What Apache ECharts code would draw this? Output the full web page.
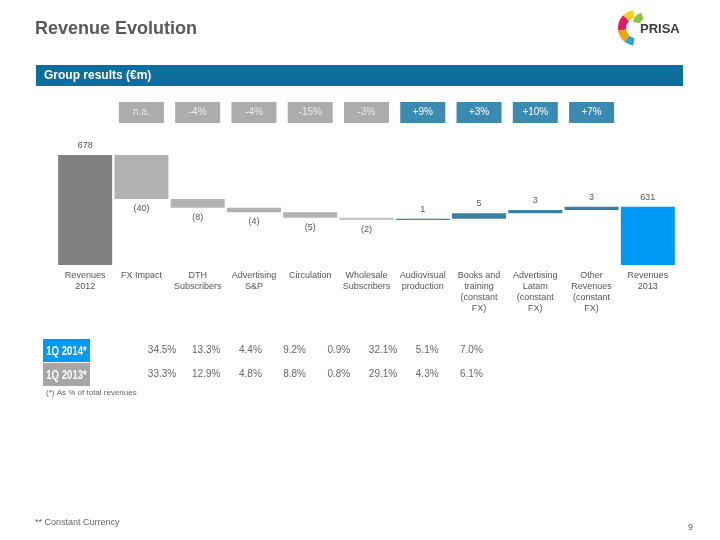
<!DOCTYPE html>
<html><head><meta charset="utf-8">
<script src="https://cdn.jsdelivr.net/npm/echarts@6/dist/echarts.min.js"></script>
<style>html,body{margin:0;padding:0;background:#fff}#c{width:720px;height:540px}</style>
</head><body><div id="c"></div>
<script>
const categories = ['Revenues\n2012','FX Impact','DTH\nSubscribers','Advertising\nS&P','Circulation','Wholesale\nSubscribers','Audiovisual\nproduction','Books and\ntraining\n(constant\nFX)','Advertising\nLatam\n(constant\nFX)','Other\nRevenues\n(constant\nFX)','Revenues\n2013'];
const values = [678, -40, -8, -4, -5, -2, 1, 5, 3, 3, 631];
const isTotal = [true,false,false,false,false,false,false,false,false,false,true];
const changeLabels = ['', 'n.a.', '-4%', '-4%', '-15%', '-3%', '+9%', '+3%', '+10%', '+7%', ''];
const row2014 = ['34.5%','13.3%','4.4%','9.2%','0.9%','32.1%','5.1%','7.0%'];
const row2013 = ['33.3%','12.9%','4.8%','8.8%','0.8%','29.1%','4.3%','6.1%'];
const rowNames = ['1Q 2014*','1Q 2013*'];

const FONT = '"Liberation Sans", Arial, sans-serif';
const base = [], bar = [];
let cum = 0;
values.forEach((v,i)=>{
  let color;
  if (isTotal[i]) { base.push(0); cum = v; color = i===0 ? '#808080' : '#0099f5'; bar.push({value:v, itemStyle:{color}}); }
  else if (v < 0) { base.push(cum + v); cum += v; bar.push({value:-v, itemStyle:{color: i===5 ? '#c4c4c4' : '#b2b2b2'}, label:{position:'bottom'}}); }
  else { base.push(cum); cum += v; bar.push({value:v, itemStyle:{color:'#3a80a3'}}); }
});

const chart = echarts.init(document.getElementById('c'));
const graphics = [
  {type:'text', left:35, top:20, style:{text:'Revenue Evolution', font:'bold 18px '+FONT, fill:'#595959'}},
  {type:'rect', shape:{x:36,y:65,width:647,height:21}, style:{fill:'#0d6e9d'}},
  {type:'text', left:44, top:70, style:{text:'Group results (€m)', font:'bold 12px '+FONT, fill:'#fff'}},
  // logo
  {type:'sector', shape:{cx:636,cy:28,r:18,r0:10,startAngle:Math.PI*0.95,endAngle:Math.PI*1.25}, style:{fill:'#e8175d'}},
  {type:'sector', shape:{cx:636,cy:28,r:18,r0:10,startAngle:Math.PI*0.72,endAngle:Math.PI*0.95}, style:{fill:'#f5a300'}},
  {type:'sector', shape:{cx:636,cy:28,r:18,r0:10,startAngle:Math.PI*0.55,endAngle:Math.PI*0.72}, style:{fill:'#2aa6df'}},
  {type:'sector', shape:{cx:636,cy:28,r:18,r0:10,startAngle:Math.PI*1.25,endAngle:Math.PI*1.45}, style:{fill:'#f7d117'}},
  {type:'sector', shape:{cx:645,cy:24,r:12,r0:5,startAngle:Math.PI*1.05,endAngle:Math.PI*1.4}, style:{fill:'#8cc63f'}},
  {type:'text', left:640, top:23, style:{text:'PRISA', font:'bold 13px '+FONT, fill:'#3c3c3c'}},
  {type:'text', left:46, top:389, style:{text:'(*) As % of total revenues', font:'8px '+FONT, fill:'#666'}},
  {type:'text', left:35, top:518, style:{text:'** Constant Currency', font:'9px '+FONT, fill:'#666'}},
  {type:'text', left:688, top:523, style:{text:'9', font:'9px '+FONT, fill:'#666'}}
];
const rowY = [339, 363];
const rowColors = ['#0099f5','#a6a6a6'];
[row2014,row2013].forEach((row,r)=>{
  graphics.push({type:'rect', shape:{x:43,y:rowY[r],width:47,height:23}, style:{fill:rowColors[r]}});
  graphics.push({type:'text', x:66.5, y:rowY[r]+12, scaleX:0.74, style:{text:rowNames[r], font:'bold 13px '+FONT, fill:'#fff', align:'center', verticalAlign:'middle'}});
  row.forEach((t,j)=>{
    graphics.push({type:'text', x:162+j*44.2, y:rowY[r]+11, style:{text:t, font:'10px '+FONT, fill:'#666', align:'center', verticalAlign:'middle'}});
  });
});

chart.setOption({
  animation:false,
  textStyle:{fontFamily:FONT},
  grid:{left:57, right:44, top:144, bottom:275},
  xAxis:[
    {type:'category', data:categories, axisLine:{show:false}, axisTick:{show:false},
     axisLabel:{interval:0, color:'#555', fontSize:9, lineHeight:11, margin:5}},
    {type:'category', data:changeLabels, position:'top', axisLine:{show:false}, axisTick:{show:false},
     axisLabel:{interval:0, margin:21, formatter:(v)=>{ if(!v) return ''; return (v[0]==='+' ? '{b|' : '{g|') + v + '}'; },
       rich:{g:{backgroundColor:'#acacac', color:'#ececec', width:45, height:21, lineHeight:21, align:'center', fontSize:10},
             b:{backgroundColor:'#3a8ab2', color:'#fff', width:45, height:21, lineHeight:21, align:'center', fontSize:10}}}}
  ],
  yAxis:{type:'value', min:578, max:688, show:false, splitLine:{show:false}},
  series:[
    {type:'bar', stack:'w', data:base, itemStyle:{color:'transparent'}, barCategoryGap:'4%', silent:true},
    {type:'bar', stack:'w', data:bar, barCategoryGap:'4%',
     label:{show:true, position:'top', color:'#555', fontSize:9, distance:5,
       formatter:(p)=>{ const v = values[p.dataIndex]; return v<0 ? '('+(-v)+')' : String(v); }}}
  ],
  graphic:graphics
});
</script></body></html>
